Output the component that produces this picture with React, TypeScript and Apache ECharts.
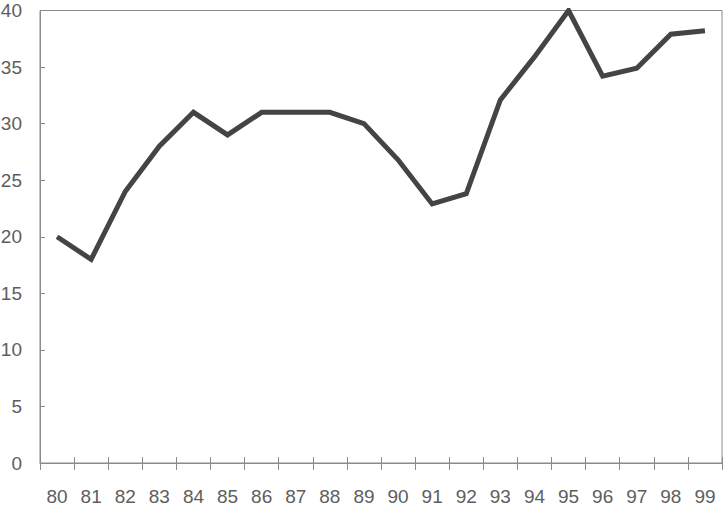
import React, { useEffect, useRef } from "react";
import * as echarts from "echarts";

const years = ["80","81","82","83","84","85","86","87","88","89","90","91","92","93","94","95","96","97","98","99"];
const values = [20, 18, 24, 28, 31, 29, 31, 31, 31, 30, 26.8, 22.9, 23.8, 32.1, 35.9, 40, 34.2, 34.9, 37.9, 38.2];

export default function App() {
  const ref = useRef<HTMLDivElement>(null);
  useEffect(() => {
    if (!ref.current) return;
    const chart = echarts.init(ref.current, undefined, { renderer: "svg" });
    const axisColor = "#8a8a8a";
    const labelStyle = { color: "#5e5e5e", fontSize: 19, lineHeight: 18, fontFamily: "Liberation Sans, Arial, sans-serif" };
    chart.setOption({
      animation: false,
      grid: {
        left: 40, right: 2, top: 10.5, bottom: 43,
        containLabel: false, outerBoundsMode: "none",
        show: true, borderColor: axisColor, borderWidth: 1,
      },
      xAxis: [
        {
          type: "category",
          data: years,
          boundaryGap: true,
          axisLine: { show: true, lineStyle: { color: axisColor, width: 1 } },
          axisTick: { show: true, alignWithLabel: false, length: 7, lineStyle: { color: axisColor } },
          axisLabel: { ...labelStyle, margin: 24 },
          splitLine: { show: false },
        },
        {
          type: "category",
          data: years,
          position: "bottom",
          boundaryGap: true,
          axisLine: { show: false },
          axisTick: { show: true, inside: true, length: 6, lineStyle: { color: axisColor } },
          axisLabel: { show: false },
          splitLine: { show: false },
        },
      ],
      yAxis: {
        type: "value",
        min: 0,
        max: 40,
        interval: 5,
        axisLine: { show: true, lineStyle: { color: axisColor, width: 1 } },
        axisTick: { show: true, inside: true, length: 5, lineStyle: { color: axisColor } },
        axisLabel: { ...labelStyle, margin: 18 },
        splitLine: { show: false },
      },
      series: [
        {
          type: "line",
          data: values,
          xAxisIndex: 0,
          symbol: "none",
          lineStyle: { color: "#464343", width: 5, join: "miter" },
        },
      ],
    });
    return () => chart.dispose();
  }, []);
  return <div ref={ref} style={{ width: 724, height: 506, position: "absolute", left: 0, top: 0 }} />;
}
